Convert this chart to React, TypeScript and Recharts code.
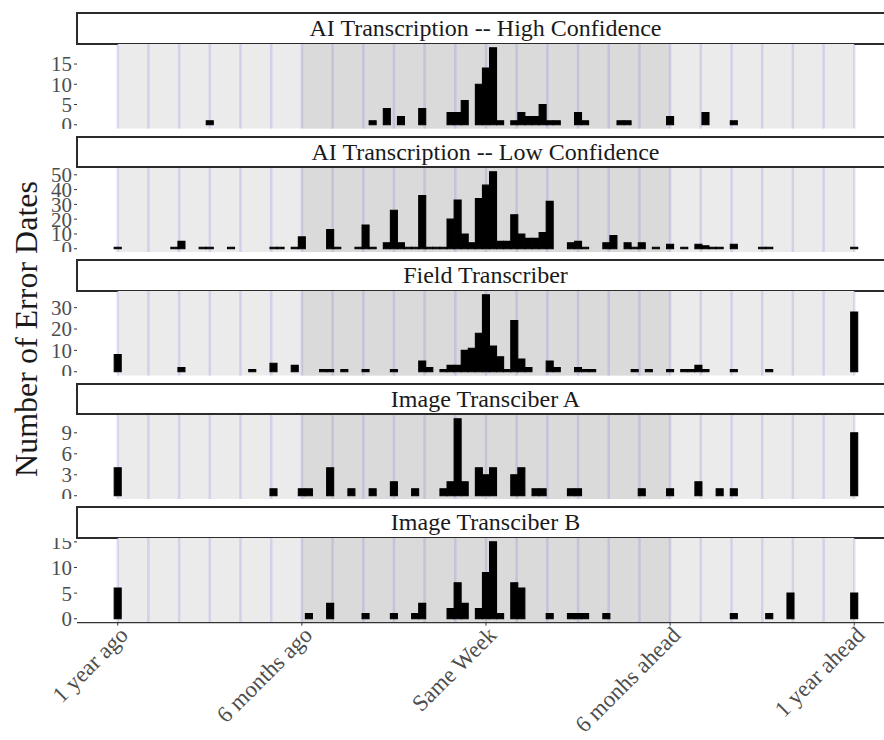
import { BarChart, Bar, XAxis, YAxis, ReferenceArea, ReferenceLine } from 'recharts'

const FONT = '"Liberation Serif", "Times New Roman", serif'

// [weeks from the recorded date, number of error dates]
type Bin = [number, number]

const highConfidence: Bin[] = [
  [-39, 1], [-16, 1], [-14, 4], [-12, 2], [-9, 4], [-5, 3], [-4, 3], [-3, 6], [-1, 10], [0, 14], [1, 19], [2, 1],
  [4, 1], [5, 3], [6, 2], [7, 2], [8, 5], [9, 1], [10, 1], [13, 3], [14, 1], [19, 1], [20, 1], [26, 2], [31, 3], [35, 1],
]

const lowConfidence: Bin[] = [
  [-52, 1], [-44, 1], [-43, 5], [-40, 1], [-39, 1], [-36, 1], [-30, 1], [-29, 1], [-27, 1], [-26, 8], [-22, 13], [-21, 1],
  [-18, 1], [-17, 16], [-16, 1], [-14, 4], [-13, 26], [-12, 4], [-11, 1], [-10, 1], [-9, 36], [-8, 1], [-7, 1], [-6, 1],
  [-5, 20], [-4, 33], [-3, 10], [-2, 4], [-1, 34], [0, 43], [1, 52], [2, 5], [3, 5], [4, 23], [5, 10], [6, 7], [7, 7],
  [8, 11], [9, 32], [12, 4], [13, 5], [14, 1], [17, 4], [18, 9], [20, 4], [21, 1], [22, 4], [24, 1], [26, 3], [28, 1],
  [30, 3], [31, 2], [32, 1], [33, 1], [35, 3], [39, 1], [40, 1], [52, 1],
]

const fieldTranscriber: Bin[] = [
  [-52, 8], [-43, 2], [-33, 1], [-30, 4], [-27, 3], [-23, 1], [-22, 1], [-20, 1], [-17, 1], [-13, 1], [-9, 5], [-8, 2],
  [-6, 1], [-5, 3], [-4, 3], [-3, 10], [-2, 11], [-1, 18], [0, 36], [1, 12], [2, 7], [3, 1], [4, 24], [5, 6], [6, 2],
  [9, 5], [10, 2], [13, 2], [14, 1], [15, 1], [21, 1], [23, 1], [26, 1], [28, 1], [29, 1], [30, 3], [31, 1], [35, 1],
  [40, 1], [52, 28],
]

const imageA: Bin[] = [
  [-52, 4], [-30, 1], [-26, 1], [-25, 1], [-22, 4], [-19, 1], [-16, 1], [-13, 2], [-10, 1], [-6, 1], [-5, 2], [-4, 11],
  [-3, 2], [-1, 4], [0, 3], [1, 4], [4, 3], [5, 4], [7, 1], [8, 1], [12, 1], [13, 1], [22, 1], [26, 1], [30, 2], [33, 1],
  [35, 1], [52, 9],
]

const imageB: Bin[] = [
  [-52, 6], [-25, 1], [-22, 3], [-17, 1], [-13, 1], [-10, 1], [-9, 3], [-5, 2], [-4, 7], [-3, 3], [-1, 2], [0, 9],
  [1, 15], [2, 1], [4, 7], [5, 6], [9, 1], [12, 1], [13, 1], [14, 1], [17, 1], [35, 1], [40, 1], [43, 5], [52, 5],
]

const panelTitles = [
  'AI Transcription -- High Confidence',
  'AI Transcription -- Low Confidence',
  'Field Transcriber',
  'Image Transciber A',
  'Image Transciber B',
]
const panelBins = [highConfidence, lowConfidence, fieldTranscriber, imageA, imageB]
const panelYTicks = [[0, 5, 10, 15], [0, 10, 20, 30, 40, 50], [0, 10, 20, 30], [0, 3, 6, 9], [0, 5, 10, 15]]

const xTicks = [-52, -26, 0, 26, 52]
const xTickLabels = ['1 year ago', '6 months ago', 'Same Week', '6 monhs ahead', '1 year ahead']
// one faint line per month
const monthLines = [-52, -47.67, -43.33, -39, -34.67, -30.33, -26, -21.67, -17.33, -13, -8.67, -4.33, 0,
  4.33, 8.67, 13, 17.33, 21.67, 26, 30.33, 34.67, 39, 43.33, 47.67, 52]

const X_DOMAIN: [number, number] = [-57.75, 57.75]
const STRIP_H = 32
const PLOT_H = 84.6
const PANEL_STEP = 123.6
const FIRST_TOP = 12
const CHART_W = 895
const Y_AXIS_W = 77

function XTick({ x, y, payload }: any) {
  const label = xTickLabels[xTicks.indexOf(payload.value)]
  return (
    <g transform={`translate(${x + 4},${y + 1})`}>
      <text x={0} y={0} dy={11} textAnchor="end" transform="rotate(-45)" fill="#4d4d4d" fontSize={23} fontFamily={FONT}>
        {label}
      </text>
    </g>
  )
}

function Panel({ index }: { index: number }) {
  const bins = panelBins[index]
  const data = bins.map(([week, count]) => ({ week, count }))
  const max = Math.max(...bins.map(b => b[1]))
  const yDomain: [number, number] = [-0.05 * max, 1.05 * max]
  const top = FIRST_TOP + index * PANEL_STEP
  const last = index === panelBins.length - 1
  const axisH = last ? 118 : 0
  const layer = { position: 'absolute' as const, left: 0, top: top + STRIP_H }

  return (
    <>
      <div
        style={{
          position: 'absolute', left: 76, top, width: 819, height: STRIP_H + 0.5, boxSizing: 'border-box',
          border: '2px solid #2b2b2b', background: '#fff', textAlign: 'center', fontFamily: FONT,
          fontSize: 24, lineHeight: `${STRIP_H - 4}px`, color: '#1a1a1a',
        }}
      >
        {panelTitles[index]}
      </div>

      {/* background layer: shaded year / half-year and month lines */}
      <div style={layer}>
        <BarChart width={CHART_W} height={PLOT_H + axisH} data={data} margin={{ top: 0, right: 0, bottom: 0, left: 0 }}>
          <XAxis type="number" dataKey="week" domain={X_DOMAIN} allowDataOverflow height={axisH} tick={false} axisLine={false} tickLine={false} hide={!last} />
          <YAxis type="number" domain={yDomain} allowDataOverflow width={Y_AXIS_W} tick={false} axisLine={false} tickLine={false} />
          <ReferenceArea x1={-52} x2={52} fill="#ebebeb" fillOpacity={1} stroke="none" />
          <ReferenceArea x1={-26} x2={26} fill="#dadada" fillOpacity={1} stroke="none" />
          {monthLines.map(m => (
            <ReferenceLine key={m} x={m} stroke="#6a6ad8" strokeOpacity={0.2} strokeWidth={2.5} />
          ))}
        </BarChart>
      </div>

      {/* bars and axes */}
      <div style={layer}>
        <BarChart width={CHART_W} height={PLOT_H + axisH} data={data} margin={{ top: 0, right: 0, bottom: 0, left: 0 }}>
          <XAxis
            type="number"
            dataKey="week"
            domain={X_DOMAIN}
            allowDataOverflow
            hide={!last}
            ticks={xTicks}
            interval={0}
            height={axisH}
            tick={<XTick />}
            tickSize={3}
            tickMargin={2}
            tickLine={{ stroke: '#333' }}
            axisLine={{ stroke: '#333', strokeWidth: 1.2 }}
          />
          <YAxis
            type="number"
            domain={yDomain}
            allowDataOverflow
            ticks={panelYTicks[index]}
            interval={0}
            width={Y_AXIS_W}
            tickSize={3}
            tickMargin={2}
            axisLine={false}
            tickLine={{ stroke: '#333' }}
            tick={{ fill: '#4d4d4d', fontSize: 21, fontFamily: FONT }}
          />
          <Bar dataKey="count" fill="#000" stroke="#000" strokeWidth={1.1} barSize={7} isAnimationActive={false} />
        </BarChart>
      </div>
    </>
  )
}

export default function App() {
  return (
    <div style={{ position: 'absolute', left: 0, top: 0, width: 884, height: 740, overflow: 'hidden', background: '#fff' }}>
      {panelBins.map((_, i) => (
        <Panel key={i} index={i} />
      ))}
      <svg width={60} height={740} style={{ position: 'absolute', left: 0, top: 0 }}>
        <text
          transform="translate(37,329) rotate(-90)"
          textAnchor="middle"
          fontSize={32}
          fontFamily={FONT}
          fill="#1a1a1a"
        >
          Number of Error Dates
        </text>
      </svg>
    </div>
  )
}
